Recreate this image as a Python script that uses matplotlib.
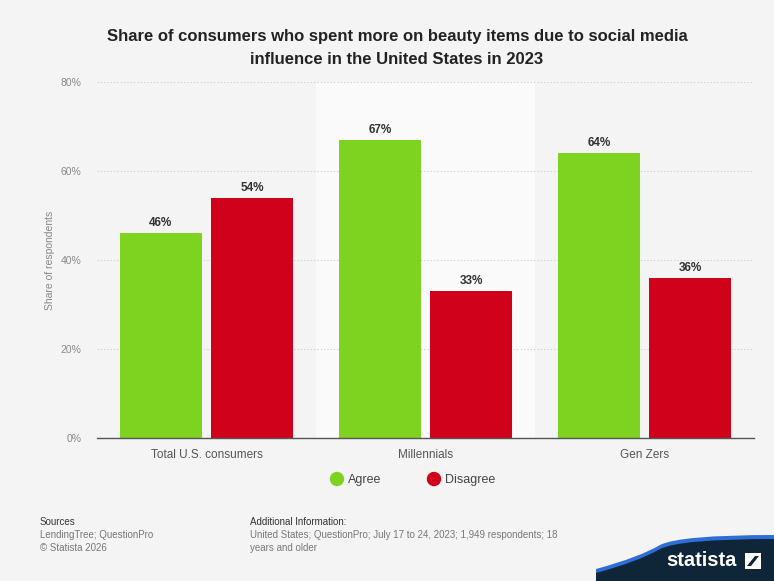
import matplotlib
matplotlib.use("Agg")
import matplotlib.pyplot as plt
import numpy as np
from matplotlib.path import Path
from matplotlib.patches import PathPatch, Polygon, Ellipse

categories = ["Total U.S. consumers", "Millennials", "Gen Zers"]
agree = [46, 67, 64]
disagree = [54, 33, 36]
series_names = ["Agree", "Disagree"]
yticks = [0, 20, 40, 60, 80]
ytick_labels = ["0%", "20%", "40%", "60%", "80%"]

W, H = 774, 581
plt.rcParams['font.family'] = ['Liberation Sans', 'DejaVu Sans']
fig = plt.figure(figsize=(W / 100, H / 100), dpi=100)
BG = "#f4f4f4"
fig.patch.set_facecolor(BG)

def px(x, y):
    return (x / W, 1 - y / H)

ax = fig.add_axes([97 / W, 1 - 438 / H, (754 - 97) / W, (438 - 82) / H])
ax.set_facecolor(BG)
GREEN = "#7ed321"
RED = "#d0021b"

x = np.arange(len(categories))
bw = 0.378
off = 0.208
ax.axvspan(0.5, 1.5, color="#fafafa", zorder=0, lw=0)
b1 = ax.bar(x - off, agree, bw, color=GREEN, zorder=3, label=series_names[0])
b2 = ax.bar(x + off, disagree, bw, color=RED, zorder=3, label=series_names[1])
for bars, vals in ((b1, agree), (b2, disagree)):
    for r, v in zip(bars, vals):
        ax.annotate(f"{v}%", (r.get_x() + r.get_width() / 2, v), xytext=(0, 3),
                    textcoords="offset points", ha="center", va="bottom",
                    fontsize=8.5, fontweight="bold", color="#333333")

ax.set_xlim(-0.5, 2.5)
ax.set_ylim(0, 80)
ax.set_yticks(yticks)
ax.set_yticklabels(ytick_labels)
ax.set_xticks(x)
ax.set_xticklabels(categories)
ax.tick_params(axis="y", length=0, labelsize=7.5, labelcolor="#888888", pad=11)
ax.tick_params(axis="x", length=0, labelsize=8.5, labelcolor="#555555", pad=8)
for s in ("top", "right", "left"):
    ax.spines[s].set_visible(False)
ax.spines["bottom"].set_color("#555555")
ax.spines["bottom"].set_linewidth(1)
ax.spines["bottom"].set_zorder(4)
ax.yaxis.grid(True, linestyle=(0, (1, 2)), color="#cccccc", lw=0.8, zorder=1)
ax.set_axisbelow(True)
ax.set_ylabel("Share of respondents", fontsize=7.5, color="#888888", labelpad=4)

# Title
fig.text(*px(397, 36), "Share of consumers who spent more on beauty items due to social media",
         ha="center", va="center", fontsize=12, fontweight="bold", color="#222222")
fig.text(*px(397, 59), "influence in the United States in 2023",
         ha="center", va="center", fontsize=12, fontweight="bold", color="#222222")

# Legend
for cx, col, lab in ((337, GREEN, series_names[0]), (434, RED, series_names[1])):
    fig.add_artist(Ellipse(px(cx, 479), 13 / W, 13 / H, transform=fig.transFigure,
                           color=col, zorder=5))
    fig.text(*px(cx + 11, 480), lab, ha="left", va="center", fontsize=9, color="#444444")

# Footer
fig.text(*px(40, 522), "Sources", fontsize=7, color="#333333", va="center")
fig.text(*px(40, 535), "LendingTree; QuestionPro", fontsize=7, color="#777777", va="center")
fig.text(*px(40, 548), "\u00a9 Statista 2026", fontsize=7, color="#777777", va="center")
fig.text(*px(250, 522), "Additional Information:", fontsize=7, color="#333333", va="center")
fig.text(*px(250, 535), "United States; QuestionPro; July 17 to 24, 2023; 1,949 respondents; 18",
         fontsize=7, color="#777777", va="center")
fig.text(*px(250, 548), "years and older", fontsize=7, color="#777777", va="center")

# Statista logo
def shape(dy):
    verts = [px(596, 581), px(596, 572 + dy), px(640, 560 + dy), px(660, 548 + dy),
             px(680, 538 + dy), px(774, 538 + dy), px(774, 581), px(596, 581)]
    codes = [Path.MOVETO, Path.LINETO, Path.CURVE3, Path.CURVE3, Path.CURVE3, Path.LINETO,
             Path.LINETO, Path.CLOSEPOLY]
    return Path(verts, codes)

fig.add_artist(PathPatch(shape(-3), transform=fig.transFigure, facecolor="#2d6fd6",
                         edgecolor="none", zorder=1))
fig.add_artist(PathPatch(shape(1), transform=fig.transFigure, facecolor="#0f2538",
                         edgecolor="none", zorder=2))
fig.text(*px(701, 561), "statista", ha="center", va="center", fontsize=14.5,
         fontweight="bold", color="white", zorder=6)
x0, y0, s = 745, 553, 16
fig.add_artist(Polygon([px(x0, y0 + s), px(x0 + s, y0 + s), px(x0 + s, y0), px(x0, y0)],
                       closed=True, transform=fig.transFigure, facecolor="white",
                       edgecolor="none", zorder=6))
fig.add_artist(Polygon([px(x0 + 2, y0 + s - 3), px(x0 + 6, y0 + s - 3),
                        px(x0 + s - 2, y0 + 3), px(x0 + s - 6, y0 + 3)],
                       closed=True, transform=fig.transFigure, facecolor="#0f2538",
                       edgecolor="none", zorder=7))

fig.savefig("out.png", dpi=100, facecolor=BG)
